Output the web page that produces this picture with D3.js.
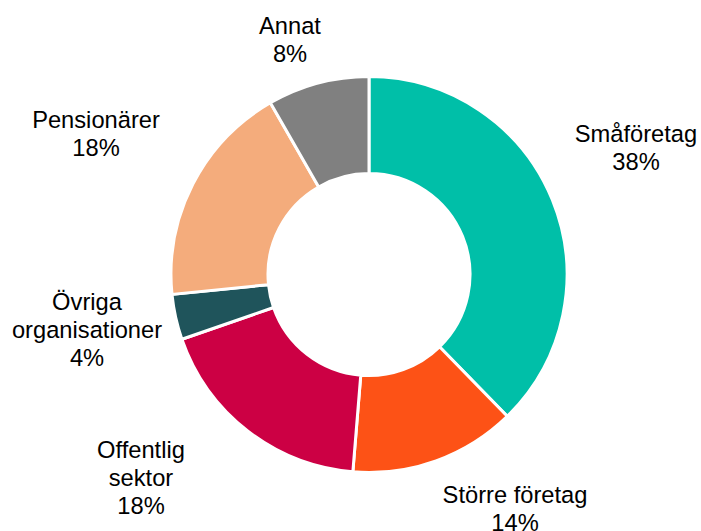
<!DOCTYPE html>
<html>
<head>
<meta charset="utf-8">
<script src="https://cdn.jsdelivr.net/npm/d3@7"></script>
<style>
  body { margin: 0; background: #fff; }
  text { font-family: "Liberation Sans", Arial, sans-serif; fill: #000; }
</style>
</head>
<body>
<script>
// data
var categories = ["Småföretag", "Större företag", "Offentlig sektor", "Övriga organisationer", "Pensionärer", "Annat"];
var values = [37.7, 13.6, 18.4, 3.7, 18.3, 8.3];
var labels = ["38%", "14%", "18%", "4%", "18%", "8%"];
var labelLines = [["Småföretag"], ["Större företag"], ["Offentlig", "sektor"], ["Övriga", "organisationer"], ["Pensionärer"], ["Annat"]];

var colors = ["#00bfa8", "#fd5216", "#cc0044", "#1f545b", "#f4ac7c", "#808080"];
// label anchor: centre x, first baseline y
var labelPos = [[636, 142], [515, 503], [141, 458], [87, 310], [96, 128], [290, 34]];

var width = 701, height = 531;
var cx = 369, cy = 274.5, outerR = 198, innerR = 101;

var svg = d3.select("body").append("svg")
    .attr("width", width)
    .attr("height", height);

var pie = d3.pie().sort(null).value(function(d) { return d; });
var arc = d3.arc().innerRadius(innerR).outerRadius(outerR);

var g = svg.append("g")
    .attr("transform", "translate(" + cx + "," + cy + ")");

g.selectAll("path")
    .data(pie(values))
    .enter().append("path")
    .attr("d", arc)
    .style("fill", function(d, i) { return colors[i]; })
    .style("stroke", "#fff")
    .style("stroke-width", 3);

var lab = svg.selectAll(".lab")
    .data(categories)
    .enter().append("text")
    .attr("class", "lab")
    .attr("text-anchor", "middle")
    .style("font-size", "23.7px");

lab.each(function(d, i) {
    var t = d3.select(this);
    var lines = labelLines[i].concat([labels[i]]);
    lines.forEach(function(s, j) {
        t.append("tspan")
            .attr("x", labelPos[i][0])
            .attr("y", labelPos[i][1] + j * 28)
            .text(s);
    });
});
</script>
</body>
</html>
